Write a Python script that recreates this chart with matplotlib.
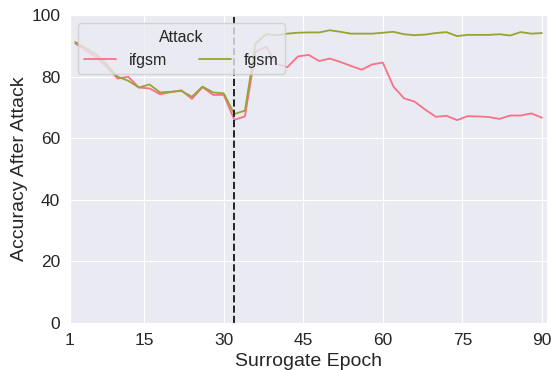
import matplotlib
matplotlib.use("Agg")
import matplotlib.pyplot as plt
import seaborn as sns
import numpy as np

# epocas del modelo sustituto (cada 2)
epochs = np.arange(2, 92, 2)

ifgsm = [90.8, 88.5, 86.3, 83.0, 79.4, 80.0, 76.5, 76.2, 74.3, 75.0,
         75.6, 72.8, 76.6, 74.1, 74.1, 66.0, 67.1, 88.1, 89.7, 84.1,
         83.1, 86.6, 87.1, 85.1, 85.9, 84.8, 83.5, 82.3, 84.0, 84.6,
         76.8, 73.0, 71.9, 69.3, 67.0, 67.3, 65.9, 67.2, 67.1, 66.9,
         66.3, 67.4, 67.4, 68.1, 66.7]

fgsm = [91.3, 89.3, 87.2, 83.8, 80.0, 78.7, 76.5, 77.5, 74.9, 75.1,
        75.4, 73.5, 76.8, 74.9, 74.6, 67.9, 69.0, 90.8, 93.8, 93.5,
        94.0, 94.3, 94.4, 94.4, 95.1, 94.6, 94.0, 94.0, 94.0, 94.3,
        94.6, 93.8, 93.5, 93.7, 94.2, 94.5, 93.2, 93.6, 93.6, 93.6,
        93.8, 93.4, 94.5, 94.0, 94.2]

best_epoch = 32
xticks = [1, 15, 30, 45, 60, 75, 90]

sns.set_style("darkgrid")
plt.rcParams['font.family'] = ['Liberation Sans', 'DejaVu Sans']

fig = plt.figure(figsize=(5.55, 3.7), dpi=100)
ax = fig.add_axes([0.126, 0.127, 0.86, 0.832])

ax.plot(epochs, ifgsm, color="#f77189", linewidth=1.3, label="ifgsm")
ax.plot(epochs, fgsm, color="#97a431", linewidth=1.3, label="fgsm")
ax.axvline(best_epoch, color="#222222", linestyle="--", linewidth=1.4)

ax.set_xlim(1, 91)
ax.set_ylim(0, 100)
ax.set_xticks(xticks)
ax.tick_params(labelsize=12.5)
ax.set_xlabel("Surrogate Epoch", fontsize=14)
ax.set_ylabel("Accuracy After Attack", fontsize=14, labelpad=2)

ax.legend(title="Attack", ncol=2, loc="upper left", fontsize=11.5,
          title_fontsize=11.5)

fig.savefig("out.png", dpi=100)
